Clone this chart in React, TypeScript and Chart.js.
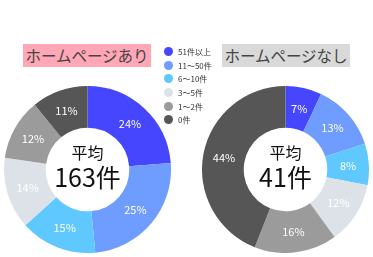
import React, { useEffect, useRef } from "react";
import { Chart, registerables } from "chart.js";
Chart.register(...registerables);

const categories = ["51件以上", "11～50件", "6～10件", "3～5件", "1～2件", "0件"];
const withHomepage = [24, 25, 15, 14, 12, 11];
const withoutHomepage = [7, 13, 8, 12, 16, 44];
const colors = ["#4646ff", "#6f9cff", "#5ec8ff", "#dde1e8", "#9b9b9b", "#565656"];
const titles = ["ホームページあり", "ホームページなし"];
const averages = ["163件", "41件"];

const FONT = "'Noto Sans CJK JP', 'Noto Sans', sans-serif";

function Donut({ data, avg }: { data: number[]; avg: string }) {
  const ref = useRef<HTMLCanvasElement>(null);
  useEffect(() => {
    const labelPlugin = {
      id: "labels",
      afterDatasetsDraw(chart: any) {
        const ctx = chart.ctx;
        const meta = chart.getDatasetMeta(0);
        ctx.save();
        ctx.fillStyle = "#ffffff";
        ctx.font = `11px ${FONT}`;
        ctx.textAlign = "center";
        ctx.textBaseline = "middle";
        meta.data.forEach((arc: any, i: number) => {
          const p = arc.getCenterPoint();
          ctx.fillText(data[i] + "%", p.x, p.y);
        });
        const a = meta.data[0];
        ctx.fillStyle = "#111111";
        ctx.font = `16px ${FONT}`;
        ctx.fillText("平均", a.x, a.y - 17);
        ctx.font = `25px ${FONT}`;
        ctx.fillText(avg, a.x, a.y + 8);
        ctx.restore();
      },
    };
    const chart = new Chart(ref.current!, {
      type: "doughnut",
      data: {
        labels: categories,
        datasets: [{ data, backgroundColor: colors, borderWidth: 0 }],
      },
      options: {
        animation: false,
        responsive: false,
        cutout: "50%",
        layout: { padding: 0 },
        plugins: { legend: { display: false }, tooltip: { enabled: false } },
      },
      plugins: [labelPlugin],
    });
    return () => chart.destroy();
  }, []);
  return <canvas ref={ref} width={167} height={167} style={{ width: 167, height: 167, display: "block" }} />;
}

export default function App() {
  const titleStyle = (bg: string, left: number): React.CSSProperties => ({
    position: "absolute",
    left,
    top: 44,
    width: 128,
    height: 23,
    background: bg,
    color: "#444",
    fontSize: 15.5,
    lineHeight: "23px",
    textAlign: "center",
    fontFamily: FONT,
    whiteSpace: "nowrap",
  });
  return (
    <div style={{ position: "fixed", left: 0, top: 0, width: 373, height: 257, background: "#fff", overflow: "hidden" }}>
      <div style={titleStyle("#ffa7b6", 23)}>{titles[0]}</div>
      <div style={titleStyle("#d9d9d9", 222)}>{titles[1]}</div>
      <div style={{ position: "absolute", left: 4, top: 86 }}>
        <Donut data={withHomepage} avg={averages[0]} />
      </div>
      <div style={{ position: "absolute", left: 202, top: 86 }}>
        <Donut data={withoutHomepage} avg={averages[1]} />
      </div>
      <div style={{ position: "absolute", left: 164, top: 45, fontFamily: FONT, fontSize: 8, color: "#333" }}>
        {categories.map((c, i) => (
          <div key={c} style={{ display: "flex", alignItems: "center", height: 13.6 }}>
            <span style={{ width: 9, height: 9, borderRadius: "50%", background: colors[i], display: "inline-block", marginRight: 5 }} />
            <span>{c}</span>
          </div>
        ))}
      </div>
    </div>
  );
}
